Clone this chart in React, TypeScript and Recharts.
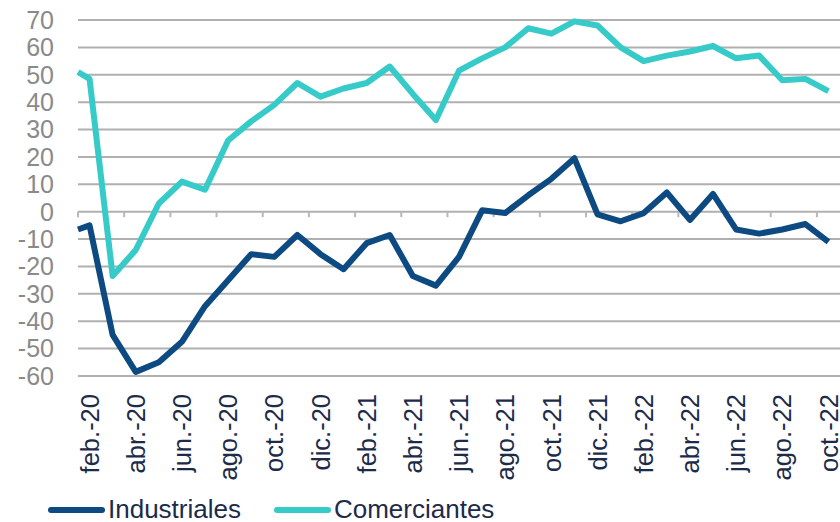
import React from "react";
import {
  LineChart,
  Line,
  XAxis,
  YAxis,
  CartesianGrid,
  ReferenceLine,
} from "recharts";

// month position, counted from jan.-20 (the first survey sits mid-January)
const meses = [
  0.5, 1, 2, 3, 4, 5, 6, 7, 8, 9, 10, 11, 12, 13, 14, 15, 16, 17, 18, 19, 20,
  21, 22, 23, 24, 25, 26, 27, 28, 29, 30, 31, 32, 33,
];

const industriales = [
  -6.5, -5, -45, -58.5, -55, -47.5, -34.5, -25, -15.5, -16.5, -8.5, -15.5, -21,
  -11.5, -8.5, -23.5, -27, -16.5, 0.5, -0.5, 6, 12, 19.5, -1, -3.5, -0.5, 7, -3,
  6.5, -6.5, -8, -6.5, -4.5, -11,
];

const comerciantes = [
  51, 48.5, -23.5, -14, 3, 11, 8, 26, 33, 39, 47, 42, 45, 47, 53, 43, 33.5,
  51.5, 56, 60, 67, 65, 69.5, 68, 60, 55, 57, 58.5, 60.5, 56, 57, 48, 48.5, 44,
];

const etiquetas = [
  "feb.-20", "abr.-20", "jun.-20", "ago.-20", "oct.-20", "dic.-20",
  "feb.-21", "abr.-21", "jun.-21", "ago.-21", "oct.-21", "dic.-21",
  "feb.-22", "abr.-22", "jun.-22", "ago.-22", "oct.-22",
];
const posEtiquetas = [1, 3, 5, 7, 9, 11, 13, 15, 17, 19, 21, 23, 25, 27, 29, 31, 33];
const posMarcas = [0.5, 2.5, 4.5, 6.5, 8.5, 10.5, 12.5, 14.5, 16.5, 18.5, 20.5, 22.5, 24.5, 26.5, 28.5, 30.5, 32.5];

const yTicks = [70, 60, 50, 40, 30, 20, 10, 0, -10, -20, -30, -40, -50, -60];

const series = [
  { key: "industriales", name: "Industriales", color: "#0d4a82" },
  { key: "comerciantes", name: "Comerciantes", color: "#36cbc9" },
];

const data = meses.map((m, i) => ({
  mes: m,
  industriales: industriales[i],
  comerciantes: comerciantes[i],
}));

const FONT = "'Liberation Sans', Arial, sans-serif";

function XTick({ x, y, payload }: any) {
  const idx = posEtiquetas.indexOf(payload.value);
  return (
    <text
      x={x}
      y={y + 18}
      dy="0.36em"
      transform={`rotate(-90, ${x}, ${y + 18})`}
      textAnchor="end"
      fill="#1c2b4a"
      fontSize={25.5}
      fontFamily={FONT}
    >
      {etiquetas[idx]}
    </text>
  );
}

export default function App() {
  return (
    <div style={{ position: "absolute", left: 0, top: 0, width: 840, height: 522, background: "#fff", overflow: "hidden" }}>
      <LineChart
        width={840}
        height={522}
        data={data}
        margin={{ top: 20, right: 0, bottom: 46, left: 0 }}
      >
        <CartesianGrid vertical={false} stroke="#b0b0b0" strokeWidth={2} />
        <XAxis
          dataKey="mes"
          type="number"
          domain={[0.5, 33.5]}
          ticks={posEtiquetas}
          interval={0}
          tick={<XTick />}
          tickLine={false}
          axisLine={false}
          tickSize={0}
          tickMargin={0}
          height={100}
        />
        <YAxis
          domain={[-60, 70]}
          ticks={yTicks}
          interval={0}
          width={78}
          axisLine={false}
          tickLine={false}
          tickSize={0}
          tickMargin={24}
          tick={{ fill: "#8a8a8a", fontSize: 25, fontFamily: FONT }}
        />
        {posMarcas.map((p) => (
          <ReferenceLine
            key={p}
            segment={[
              { x: p, y: 0 },
              { x: p, y: -2 },
            ]}
            stroke="#b8b8b8"
            strokeWidth={2}
          />
        ))}
        {series.map((s) => (
          <Line
            key={s.key}
            dataKey={s.key}
            name={s.name}
            stroke={s.color}
            strokeWidth={6}
            dot={false}
            type="linear"
            strokeLinejoin="round"
            isAnimationActive={false}
          />
        ))}
      </LineChart>
      <div
        style={{
          position: "absolute",
          left: 48,
          top: 497,
          display: "flex",
          alignItems: "center",
          fontFamily: FONT,
          fontSize: 26,
          color: "#1c2b4a",
          lineHeight: "25px",
          whiteSpace: "nowrap",
        }}
      >
        {series.map((s) => (
          <div key={s.key} style={{ display: "flex", alignItems: "center", marginRight: 33 }}>
            <span
              style={{
                display: "inline-block",
                width: 57,
                height: 6,
                borderRadius: 3,
                background: s.color,
                marginRight: 3,
              }}
            />
            <span>{s.name}</span>
          </div>
        ))}
      </div>
    </div>
  );
}
